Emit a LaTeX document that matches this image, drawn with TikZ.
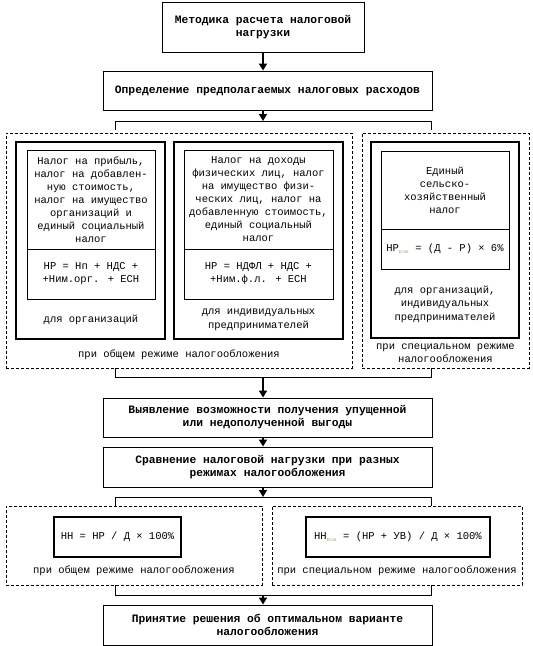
\documentclass[tikz,border=0pt]{standalone}
\usepackage{fontspec}
\setmainfont{Liberation Mono}
\usetikzlibrary{arrows.meta}
\definecolor{subc}{RGB}{170,150,100}
\newcommand\esxn{\textsubscript{\fontsize{4}{4}\selectfont\color{subc}ЕСХН}}
\begin{document}
\begin{tikzpicture}[x=1pt,y=-1pt,
  box/.style={draw, line width=0.9pt, inner sep=2pt, align=center,
    font=\fontsize{11.3}{13}\selectfont\bfseries},
  obox/.style={draw, line width=1.3pt, inner sep=0pt},
  ibox/.style={draw, line width=0.8pt, inner sep=2pt, align=center,
    font=\fontsize{10.5}{13}\selectfont},
  fbox/.style={draw, line width=1.2pt, inner sep=2pt, align=center,
    font=\fontsize{10.5}{13}\selectfont},
  dbox/.style={draw, line width=0.8pt, dash pattern=on 3pt off 2pt, inner sep=0pt},
  txt/.style={inner sep=1pt, align=center, font=\fontsize{10.5}{13.5}\selectfont},
  arr/.style={line width=1.6pt, -{Triangle[width=8pt,length=7pt]}},
  conn/.style={line width=1pt}]
\useasboundingbox (0,0) rectangle (533,646);

% top
\node[box, minimum width=202pt, minimum height=50pt] (b1) at (263,27) {Методика расчета налоговой\\нагрузки};
\node[box, minimum width=329pt, minimum height=39pt] (b2) at (267.5,90.5) {Определение предполагаемых налоговых расходов};
\coordinate (t1) at (263,121);
\coordinate (t1l) at (115,130);
\coordinate (t1r) at (431,130);
\draw[arr] (b1.south) -- (b1.south |- b2.north);
\draw[arr] (b2.south -| t1) -- (t1);
\draw[conn] (t1l) -- (t1l |- t1) -- (t1r |- t1) -- (t1r);

% dashed regions
\node[dbox, minimum width=346pt, minimum height=235pt] (d1) at (179,250.5) {};
\node[dbox, minimum width=167pt, minimum height=235pt] (d2) at (445.5,250.5) {};

% outer solid boxes
\node[obox, minimum width=149pt, minimum height=197pt] (o1) at (90.5,240.5) {};
\node[obox, minimum width=169pt, minimum height=197pt] (o2) at (258.5,240.5) {};
\node[obox, minimum width=148pt, minimum height=196pt] (o3) at (445,240) {};

% inner boxes
\node[ibox, minimum width=128pt, minimum height=99pt] (i1a) at (91,199.5)
  {Налог на прибыль,\\налог на добавлен-\\ную стоимость,\\налог на имущество\\организаций и\\единый социальный\\налог};
\node[ibox, minimum width=128pt, minimum height=50pt] (i1b) at (91,274)
  {НР = Нп + НДС +\\+Ним.орг. + ЕСН};
\node[ibox, minimum width=149pt, minimum height=99pt] (i2a) at (258.5,199.5)
  {Налог на доходы\\физических лиц, налог\\на имущество физи-\\ческих лиц, налог на\\добавленную стоимость,\\единый социальный\\налог};
\node[ibox, minimum width=149pt, minimum height=50pt] (i2b) at (258.5,274)
  {НР = НДФЛ + НДС +\\+Ним.ф.л. + ЕСН};
\node[ibox, minimum width=128pt, minimum height=78pt] (i3a) at (445,190)
  {Единый\\сельско-\\хозяйственный\\налог};
\node[ibox, minimum width=128pt, minimum height=40pt] (i3b) at (445,249)
  {НР\esxn{} = (Д - Р) × 6\%};

% labels
\node[txt] (l1) at (91,320) {для организаций};
\node[txt] (l2) at (258.5,320) {для индивидуальных\\предпринимателей};
\node[txt] (l3) at (445,304) {для организаций,\\индивидуальных\\предпринимателей};
\node[txt] (l4) at (179,355) {при общем режиме налогообложения};
\node[txt] (l5) at (445.5,353) {при специальном режиме\\налогообложения};

% second part
\coordinate (t2) at (263,377);
\draw[conn] (d1.south -| t1l) -- (t1l |- t2) -- (t1r |- t2) -- (d2.south -| t1r);
\node[box, minimum width=329pt, minimum height=39pt] (b3) at (267.5,417.5) {Выявление возможности получения упущенной\\или недополученной выгоды};
\node[box, minimum width=329pt, minimum height=40pt] (b4) at (267.5,467) {Сравнение налоговой нагрузки при разных\\режимах налогообложения};
\draw[arr] (t2) -- (t2 |- b3.north);
\draw[arr] (b3.south -| t2) -- (b4.north -| t2);
\coordinate (t3) at (263,497);
\coordinate (t3l) at (115,506);
\coordinate (t3r) at (431,506);
\draw[arr] (b4.south -| t3) -- (t3);
\draw[conn] (t3l) -- (t3l |- t3) -- (t3r |- t3) -- (t3r);

\node[dbox, minimum width=256pt, minimum height=79pt] (d3) at (134,545.5) {};
\node[dbox, minimum width=250pt, minimum height=79pt] (d4) at (397,545.5) {};
\node[fbox, minimum width=127pt, minimum height=40pt] (f1) at (117.5,537) {НН = НР / Д × 100\%};
\node[fbox, minimum width=184pt, minimum height=40pt] (f2) at (398,537) {НН\esxn{} = (НР + УВ) / Д × 100\%};
\node[txt] (l6) at (134,571) {при общем режиме налогообложения};
\node[txt] (l7) at (397,571) {при специальном режиме налогообложения};

\coordinate (t4) at (263,595);
\draw[conn] (d3.south -| t3l) -- (t3l |- t4) -- (t3r |- t4) -- (d4.south -| t3r);
\node[box, minimum width=329pt, minimum height=40pt] (b5) at (267.5,625) {Принятие решения об оптимальном варианте\\налогообложения};
\draw[arr] (t4) -- (t4 |- b5.north);
\end{tikzpicture}
\end{document}
